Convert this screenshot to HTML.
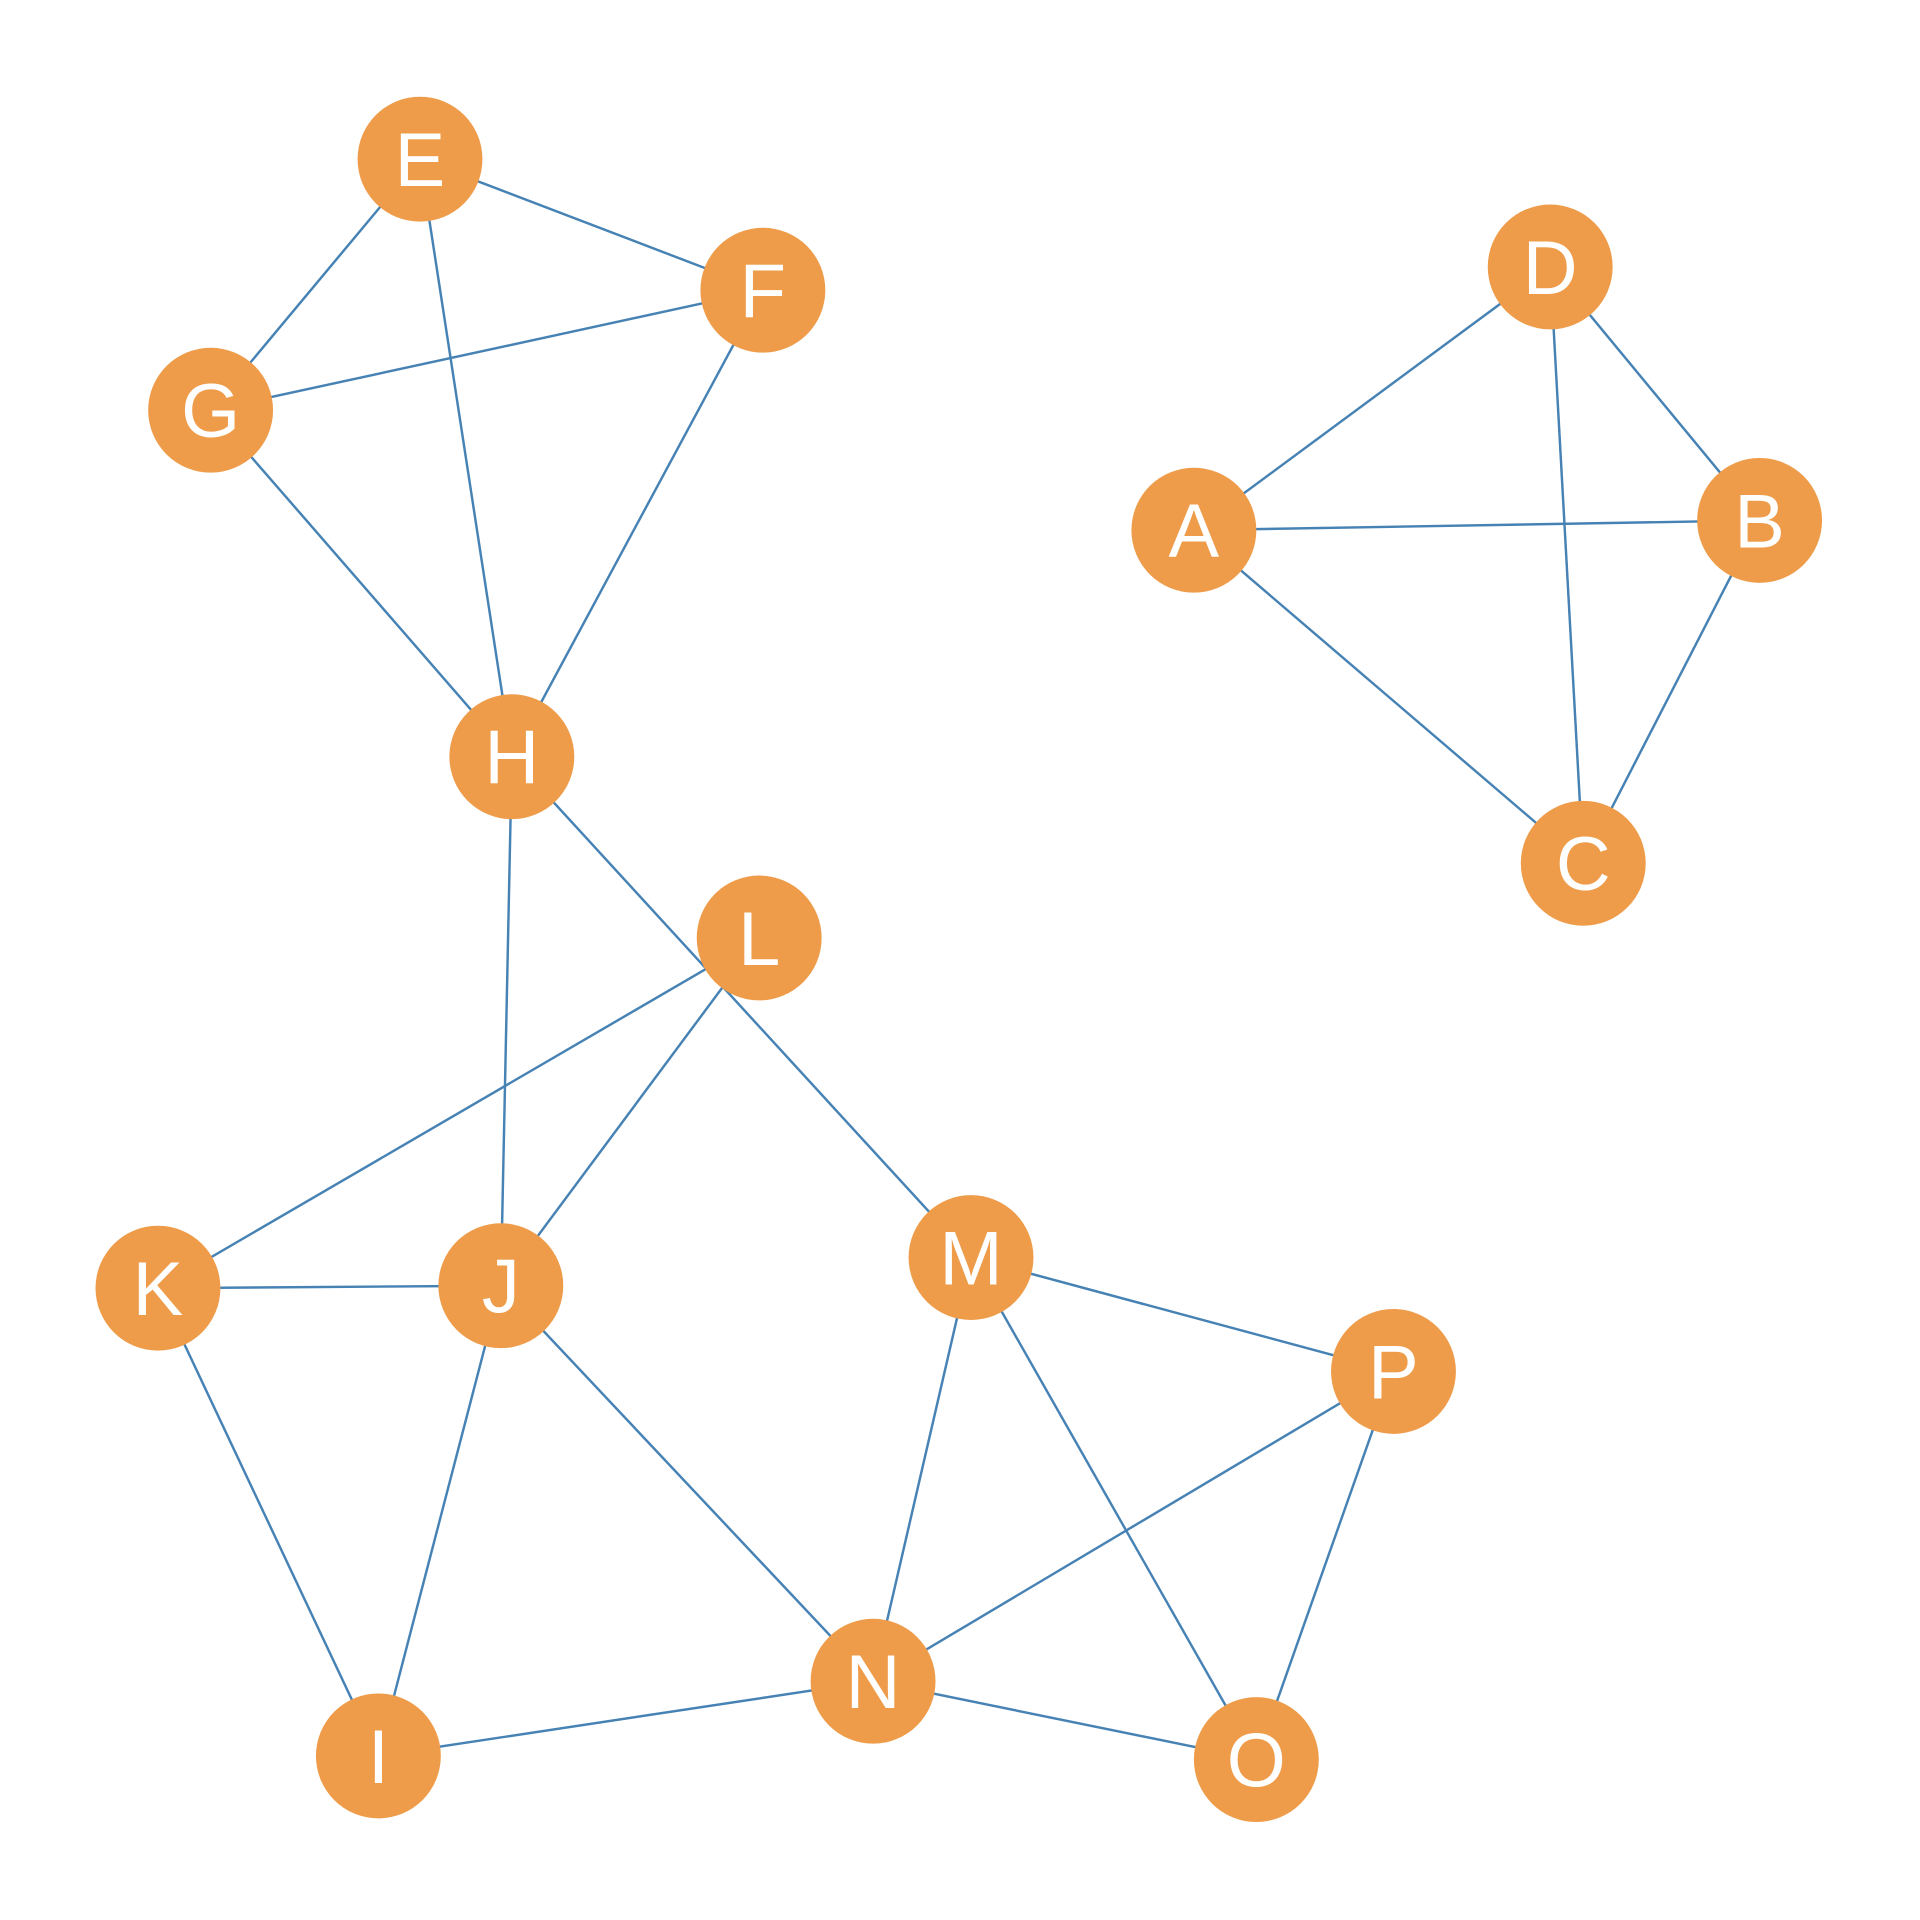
<!DOCTYPE html>
<html><head><style>html,body{margin:0;padding:0;background:#fff}svg{display:block}</style></head>
<body>
<svg width="1920" height="1920" viewBox="0 0 1568 1568" xmlns="http://www.w3.org/2000/svg">
<g stroke="#4682b4" stroke-width="2">
<line x1="343" y1="130" x2="623" y2="237"/>
<line x1="343" y1="130" x2="172" y2="335"/>
<line x1="343" y1="130" x2="418" y2="618"/>
<line x1="172" y1="335" x2="623" y2="237"/>
<line x1="172" y1="335" x2="418" y2="618"/>
<line x1="623" y1="237" x2="418" y2="618"/>
<line x1="418" y1="618" x2="409" y2="1050"/>
<line x1="418" y1="618" x2="793" y2="1027"/>
<line x1="620" y1="766" x2="129" y2="1052"/>
<line x1="620" y1="766" x2="409" y2="1050"/>
<line x1="129" y1="1052" x2="409" y2="1050"/>
<line x1="129" y1="1052" x2="309" y2="1434"/>
<line x1="409" y1="1050" x2="309" y2="1434"/>
<line x1="409" y1="1050" x2="713" y2="1373"/>
<line x1="793" y1="1027" x2="713" y2="1373"/>
<line x1="793" y1="1027" x2="1138" y2="1120"/>
<line x1="793" y1="1027" x2="1026" y2="1437"/>
<line x1="1138" y1="1120" x2="713" y2="1373"/>
<line x1="1138" y1="1120" x2="1026" y2="1437"/>
<line x1="713" y1="1373" x2="309" y2="1434"/>
<line x1="713" y1="1373" x2="1026" y2="1437"/>
<line x1="1266" y1="218" x2="975" y2="433"/>
<line x1="1266" y1="218" x2="1437" y2="425"/>
<line x1="1266" y1="218" x2="1293" y2="705"/>
<line x1="975" y1="433" x2="1437" y2="425"/>
<line x1="975" y1="433" x2="1293" y2="705"/>
<line x1="1437" y1="425" x2="1293" y2="705"/>
</g>
<g fill="#ee9c4a">
<circle cx="343" cy="130" r="51"/><circle cx="623" cy="237" r="51"/><circle cx="172" cy="335" r="51"/>
<circle cx="418" cy="618" r="51"/><circle cx="1266" cy="218" r="51"/><circle cx="975" cy="433" r="51"/>
<circle cx="1437" cy="425" r="51"/><circle cx="1293" cy="705" r="51"/><circle cx="620" cy="766" r="51"/>
<circle cx="129" cy="1052" r="51"/><circle cx="409" cy="1050" r="51"/><circle cx="793" cy="1027" r="51"/>
<circle cx="1138" cy="1120" r="51"/><circle cx="713" cy="1373" r="51"/><circle cx="309" cy="1434" r="51"/>
<circle cx="1026" cy="1437" r="51"/>
</g>
<g fill="#fff" font-family="Liberation Sans, sans-serif" font-size="62" text-anchor="middle">
<text x="343" y="152">E</text><text x="623" y="259">F</text><text x="172" y="357">G</text>
<text x="418" y="640">H</text><text x="1266" y="240">D</text><text x="975" y="455">A</text>
<text x="1437" y="447">B</text><text x="1293" y="727">C</text><text x="620" y="788">L</text>
<text x="129" y="1074">K</text><text x="409" y="1072">J</text><text x="793" y="1049">M</text>
<text x="1138" y="1142">P</text><text x="713" y="1395">N</text><text x="309" y="1456">I</text>
<text x="1026" y="1459">O</text>
</g>
</svg>
</body></html>
